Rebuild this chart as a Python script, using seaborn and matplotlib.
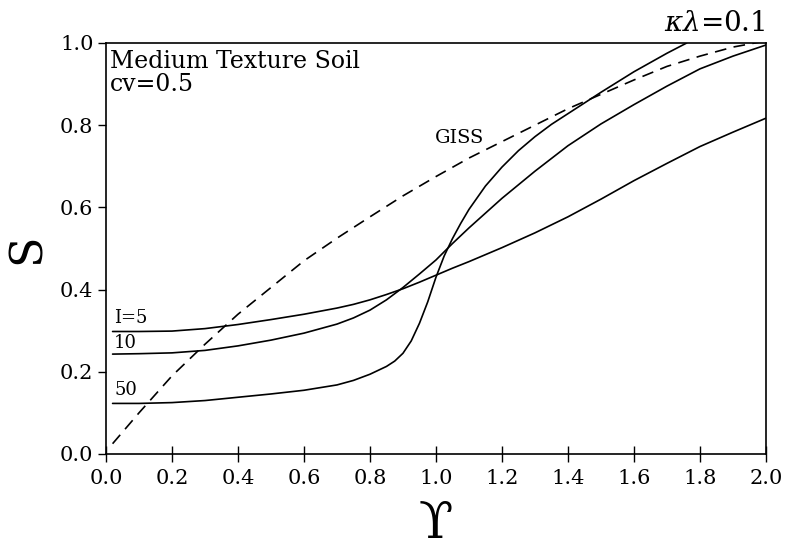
import numpy as np
import pandas as pd
import matplotlib
matplotlib.use("Agg")
import matplotlib.pyplot as plt
import seaborn as sns

# ---- data ----
x_std = [0.02, 0.1, 0.2, 0.3, 0.4, 0.5, 0.6, 0.7, 0.75, 0.8, 0.85, 0.9, 0.95,
         1.0, 1.05, 1.1, 1.2, 1.3, 1.4, 1.5, 1.6, 1.7, 1.8, 1.9, 2.0]
s_I5 = [0.298, 0.298, 0.299, 0.305, 0.315, 0.327, 0.340, 0.355, 0.364, 0.375,
        0.388, 0.402, 0.418, 0.435, 0.452, 0.468, 0.502, 0.538, 0.577, 0.620,
        0.665, 0.707, 0.748, 0.783, 0.817]
s_I10 = [0.243, 0.244, 0.246, 0.252, 0.263, 0.277, 0.294, 0.316, 0.331, 0.350,
         0.375, 0.405, 0.438, 0.472, 0.512, 0.550, 0.622, 0.688, 0.750, 0.803,
         0.850, 0.895, 0.937, 0.968, 0.995]
x_I50 = [0.02, 0.1, 0.2, 0.3, 0.4, 0.5, 0.6, 0.7, 0.75, 0.8, 0.85, 0.875, 0.9,
         0.925, 0.95, 0.975, 1.0, 1.025, 1.05, 1.075, 1.1, 1.15, 1.2, 1.25,
         1.3, 1.35, 1.4, 1.5, 1.6, 1.7, 1.76]
s_I50 = [0.123, 0.123, 0.125, 0.130, 0.138, 0.146, 0.155, 0.168, 0.179, 0.194,
         0.213, 0.226, 0.245, 0.275, 0.318, 0.370, 0.430, 0.482, 0.524, 0.561,
         0.595, 0.652, 0.698, 0.738, 0.772, 0.802, 0.828, 0.880, 0.930, 0.975,
         1.0]
x_giss = [0.02, 0.1, 0.2, 0.3, 0.4, 0.5, 0.6, 0.7, 0.8, 0.9, 1.0, 1.1, 1.2,
          1.3, 1.4, 1.5, 1.6, 1.7, 1.8, 1.9, 2.0]
s_giss = [0.025, 0.10, 0.19, 0.267, 0.34, 0.405, 0.47, 0.525, 0.577, 0.628,
          0.675, 0.72, 0.76, 0.80, 0.84, 0.875, 0.91, 0.943, 0.968, 0.99, 1.005]

curve_labels = ["I=5", "10", "50"]
xticks = [0.0, 0.2, 0.4, 0.6, 0.8, 1.0, 1.2, 1.4, 1.6, 1.8, 2.0]
yticks = [0.0, 0.2, 0.4, 0.6, 0.8, 1.0]

sns.set_style("ticks")
plt.rcParams['font.family'] = ['DejaVu Serif', 'DejaVu Sans']
plt.rcParams['mathtext.fontset'] = 'dejavuserif'
plt.rcParams['text.color'] = 'black'
plt.rcParams['axes.labelcolor'] = 'black'
plt.rcParams['xtick.color'] = 'black'
plt.rcParams['ytick.color'] = 'black'

fig = plt.figure(figsize=(7.88, 5.56), dpi=100)
ax = fig.add_axes([0.1345, 0.1835, 0.8375, 0.7392])

for xs, ys in [(x_std, s_I5), (x_std, s_I10), (x_I50, s_I50)]:
    sns.lineplot(x=xs, y=ys, ax=ax, color='black', lw=1.2, sort=False)
sns.lineplot(x=x_giss, y=s_giss, ax=ax, color='black', lw=1.2, sort=False,
             linestyle=(0, (7, 4.5)))

ax.set_xlim(0, 2.0)
ax.set_ylim(0, 1.0)
ax.set_xticks(xticks)
ax.set_yticks(yticks)
ax.set_xticklabels([f"{v:.1f}" for v in xticks], fontsize=15)
ax.set_yticklabels([f"{v:.1f}" for v in yticks], fontsize=15)
ax.tick_params(axis='x', direction='inout', length=12, width=1.0, pad=5,
               colors='black')
ax.tick_params(axis='y', direction='out', length=6, width=1.0, pad=3,
               colors='black')
for sp in ax.spines.values():
    sp.set_linewidth(1.2)
    sp.set_color('black')
    sp.set_visible(True)

ax.set_xlabel("\u03d2", fontsize=36, labelpad=8, color='black')
ax.set_ylabel("S", fontsize=32, labelpad=8, rotation=90, color='black')

ax.text(0.012, 0.954, "Medium Texture Soil", fontsize=17, va='center', ha='left')
ax.text(0.012, 0.90, "cv=0.5", fontsize=17, va='center', ha='left')
ax.text(1.0, 1.015, "$\\kappa\\lambda$=0.1", fontsize=20, va='bottom', ha='right',
        transform=ax.transAxes)
ax.text(1.07, 0.77, "GISS", fontsize=14, va='center', ha='center')
ax.text(0.025, 0.33, curve_labels[0], fontsize=13, va='center', ha='left')
ax.text(0.025, 0.27, curve_labels[1], fontsize=13, va='center', ha='left')
ax.text(0.025, 0.155, curve_labels[2], fontsize=13, va='center', ha='left')

fig.savefig("out.png", dpi=100)
